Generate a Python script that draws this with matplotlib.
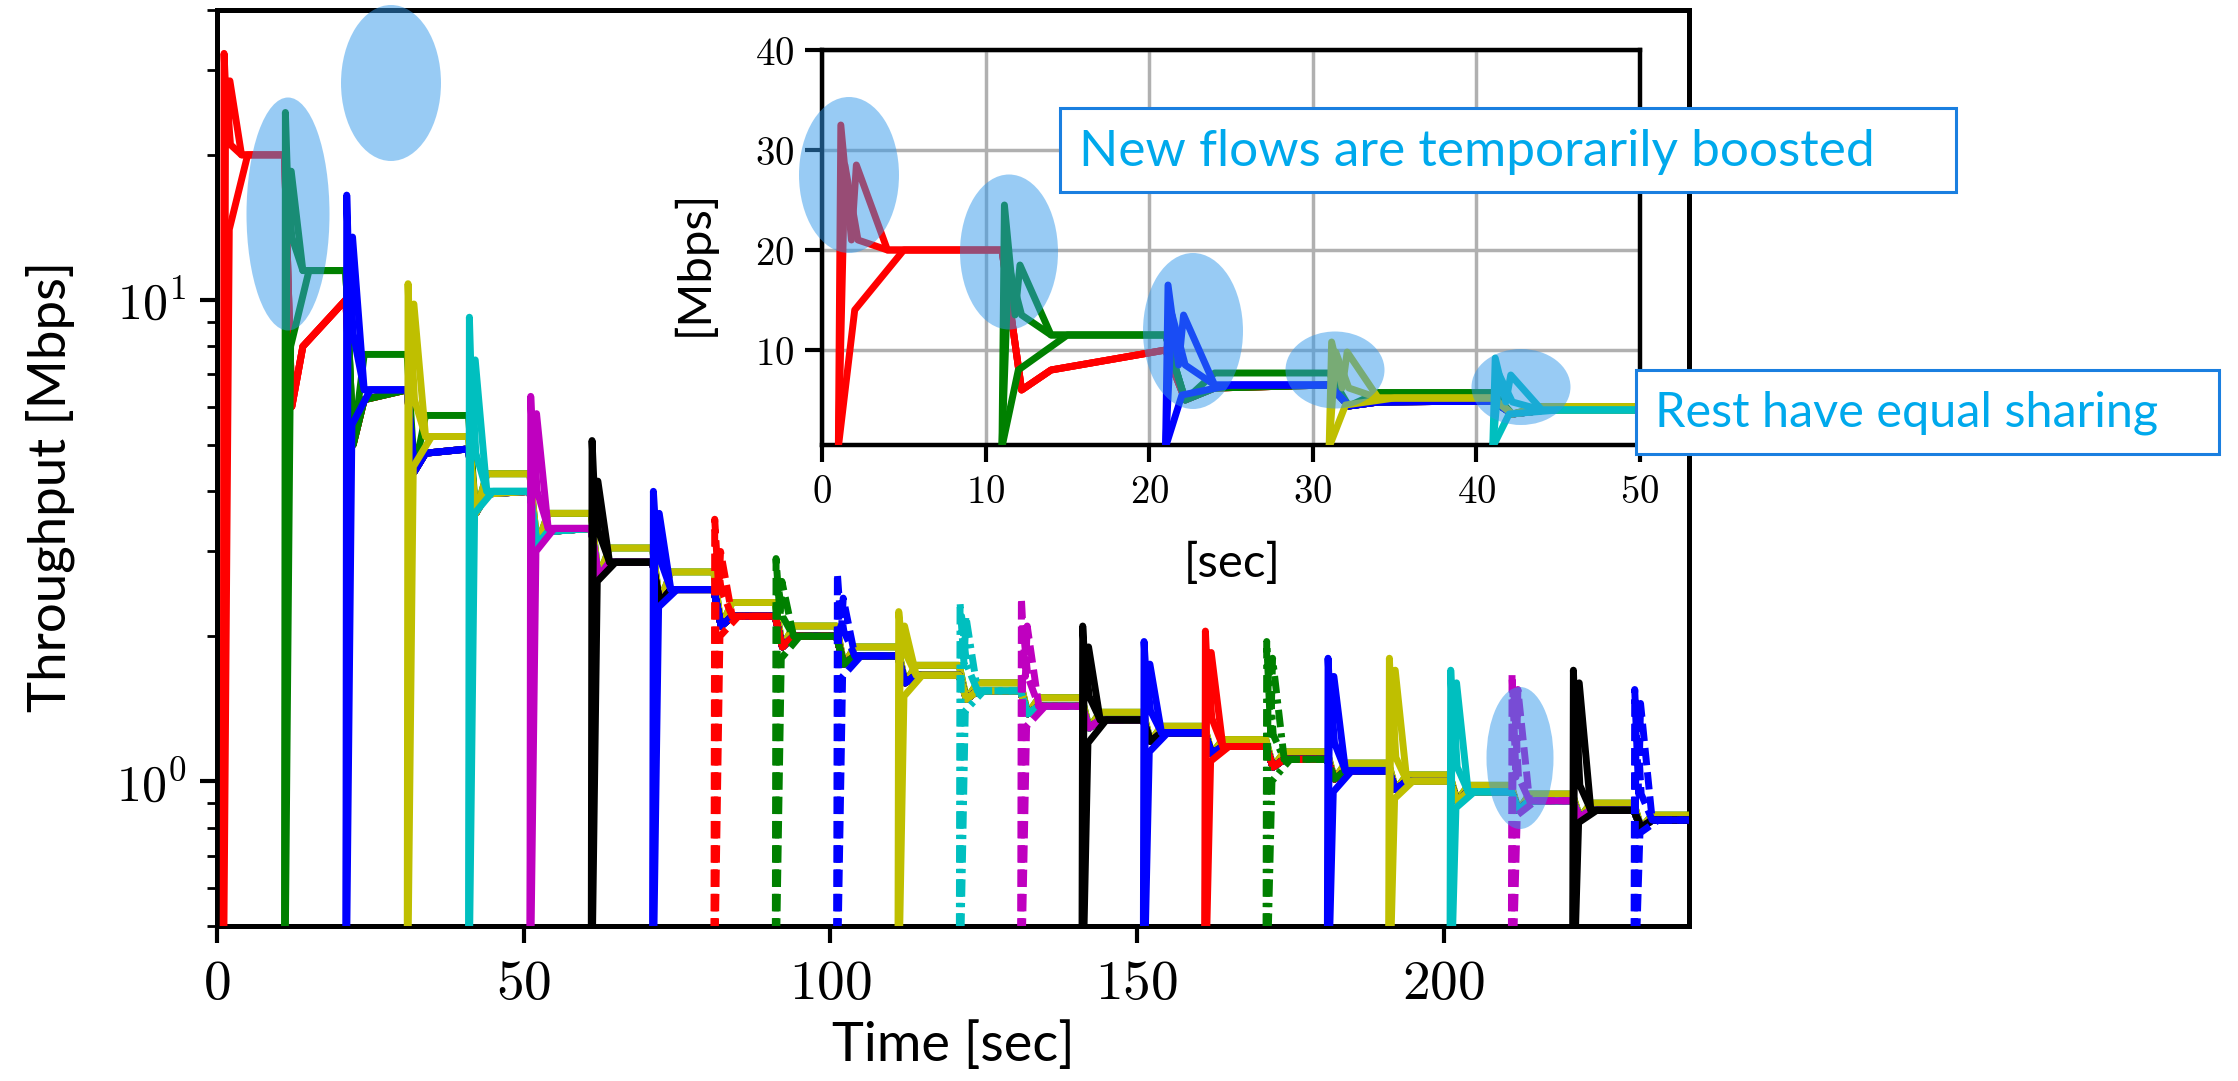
"""
Throughput of staggered flows: new flows get a short boost, then all flows
settle to an equal share. Main panel is log scale, inset zooms on the first 50 s.
"""

import math
import matplotlib
matplotlib.use('Agg')
import matplotlib.pyplot as plt
from matplotlib.patches import Ellipse, Rectangle
from matplotlib.ticker import FixedLocator, FuncFormatter

W, H = 2238, 1081

# One group of flows starts every 10 s
START = [1, 11, 21, 31, 41, 51, 61, 71, 81, 91, 101, 111,
         121, 131, 141, 151, 161, 171, 181, 191, 201, 211, 221, 231]
COLORS = ['r', 'g', 'b', 'y', 'c', 'm', 'k', 'b', 'r', 'g', 'b', 'y',
          'c', 'm', 'k', 'b', 'r', 'g', 'b', 'y', 'c', 'm', 'k', 'b']
STYLES = ['-', '-', '-', '-', '-', '-', '-', '-', '--', '--', '--', '-',
          '-.', '--', '-', '-', '-', '-.', '-', '-', '-', '--', '-', '--']

# boost of a new group (two runs), value ~1 s later, slow-start run, first plateau
PEAK = [32.5, 24.5, 16.5, 10.8, 9.2, 6.3, 5.1, 4.0, 3.5, 2.9, 2.7, 2.25,
        2.35, 2.4, 2.1, 1.95, 2.05, 1.95, 1.8, 1.8, 1.7, 1.67, 1.7, 1.55]
PEAK_B = [28.5, 18.5, 13.5, 9.8, 7.5, 5.8, 4.2, 3.6, 3.0, 2.6, 2.4, 2.1,
          2.2, 2.1, 1.9, 1.75, 1.85, 1.8, 1.65, 1.7, 1.6, 1.55, 1.6, 1.45]
MID = [21.0, 13.5, 8.5, 6.2, 4.8, 4.0, 3.3, 2.9, 2.5, 2.2, 2.05, 1.85,
       1.75, 1.65, 1.5, 1.4, 1.35, 1.25, 1.2, 1.12, 1.07, 1.02, 0.98, 0.94]
SLOW = [14.0, 8.0, 5.5, 4.5, 3.6, 3.0, 2.6, 2.3, 2.0, 1.8, 1.65, 1.5,
        1.4, 1.3, 1.2, 1.15, 1.1, 1.0, 0.95, 0.92, 0.88, 0.85, 0.82, 0.78]
LEVEL_NEW = [20.0, 11.5, 6.5, 5.2, 4.0, 3.35, 2.85, 2.5, 2.2, 2.0, 1.82, 1.66,
             1.54, 1.43, 1.34, 1.26, 1.18, 1.11, 1.05, 1.0, 0.95, 0.91, 0.87, 0.83]

# older flows in each 10 s period: plateau, dip when a new group arrives, value 2 s later
LEVEL = [20.0, 10.0, 6.5, 4.9, 4.0, 3.35, 2.85, 2.5, 2.2, 2.0, 1.82, 1.66,
         1.54, 1.43, 1.34, 1.26, 1.18, 1.11, 1.05, 1.0, 0.95, 0.91, 0.87, 0.83]
LEVEL_HI = [20.0, 11.5, 7.7, 5.75, 4.35, 3.6, 3.05, 2.72, 2.35, 2.1, 1.9, 1.74,
            1.6, 1.49, 1.39, 1.3, 1.22, 1.15, 1.09, 1.03, 0.98, 0.94, 0.9, 0.85]
DIP = [20.0, 6.0, 5.0, 4.4, 3.6, 3.1, 2.65, 2.35, 2.1, 1.9, 1.75, 1.6,
       1.48, 1.38, 1.29, 1.21, 1.14, 1.07, 1.01, 0.96, 0.91, 0.87, 0.84, 0.8]
REC = [20.0, 8.0, 6.2, 4.8, 3.95, 3.3, 2.85, 2.5, 2.2, 2.0, 1.82, 1.66,
       1.54, 1.43, 1.34, 1.26, 1.18, 1.11, 1.05, 1.0, 0.95, 0.91, 0.87, 0.83]
HI_GROUPS = [1, 3]   # groups that ride a bit above the fair share
T_END = 240

# highlight ellipses (figure pixels): cx, cy, w, h
ELLIPSES = [(288, 214, 83, 233), (391, 83, 100, 156), (1520, 758, 67, 142),
            (849, 175, 100, 156), (1009, 252, 98, 155), (1193, 331, 100, 156),
            (1335, 370, 99, 77), (1521, 387, 99, 76)]

TEXT_BLUE = '#00a9ec'
BOX_BLUE = '#1a7fe0'
LABEL_FONT = ['Lato', 'DejaVu Sans']
LW = 5.0
# shorter dashes than the matplotlib default, closer to the original plot
DASHES = {'--': (0, (2.5, 1.0)), '-.': (0, (2.5, 0.9, 0.6, 0.9)), '-': '-'}

plt.rcParams['mathtext.fontset'] = 'cm'


def flow_path(g, run):
    """Time/value points of one run of flow group g"""
    t0 = START[g]
    if run == 0:
        t = [t0, t0 + 0.15, t0 + 0.8, t0 + 1.1, t0 + 3]
        v = [0.3, PEAK[g], MID[g], PEAK_B[g], LEVEL_NEW[g]]
    elif run == 1:
        t = [t0, t0 + 0.4, t0 + 1.2, t0 + 3]
        v = [0.3, PEAK_B[g], MID[g], LEVEL_NEW[g]]
    else:
        t = [t0, t0 + 1.0, t0 + 4]
        v = [0.3, SLOW[g], LEVEL_NEW[g]]

    if g + 1 < len(START):
        t.append(START[g + 1])
    else:
        t.append(T_END)
    v.append(LEVEL_NEW[g])

    for k in range(g + 1, len(START)):
        hi = run == 0 and g in HI_GROUPS
        target = LEVEL_HI[k] if hi else LEVEL[k]
        end = START[k + 1] if k + 1 < len(START) else T_END
        t += [START[k] + 1.2, START[k] + 3, end]
        v += [DIP[k], target if hi else REC[k], target]
    return t, v


def draw_flows(ax, lw):
    for g in range(len(START)):
        for run in (2, 1, 0):
            t, v = flow_path(g, run)
            ax.plot(t, v, color=COLORS[g], ls=DASHES[STYLES[g]], lw=lw,
                    solid_joinstyle='round', dash_joinstyle='round', zorder=3)


def style_spines(ax, lw):
    for side in ax.spines.values():
        side.set_linewidth(lw)
    ax.tick_params(which='both', direction='out', top=False, right=False)
    ax.tick_params(which='major', length=12, width=3)
    ax.tick_params(which='minor', length=7, width=2)


fig = plt.figure(figsize=(W / 100, H / 100), dpi=100)

# main panel
ax = fig.add_axes([217 / W, 1 - 926 / H, (1689 - 217) / W, (926 - 10) / H])
draw_flows(ax, LW)
ax.set_yscale('log')
ax.set_xlim(0, 240)
ax.set_ylim(0.5, 40)
ax.xaxis.set_major_locator(FixedLocator([0, 50, 100, 150, 200]))
ax.xaxis.set_major_formatter(FuncFormatter(lambda x, p: r'$%d$' % x))
ax.yaxis.set_major_formatter(FuncFormatter(
    lambda y, p: r'$10^{%d}$' % round(math.log10(y))))
style_spines(ax, 3.6)
ax.tick_params(axis='x', which='major', labelsize=40, pad=10)
ax.tick_params(axis='y', which='major', labelsize=36, pad=10)

fig.text(953 / W, 1 - 1045 / H, 'Time [sec]', ha='center', va='center',
         fontsize=39, family=LABEL_FONT)
fig.text(50 / W, 1 - 486 / H, 'Throughput [Mbps]', ha='center', va='center',
         rotation=90, fontsize=38, family=LABEL_FONT)

# inset: first 50 s on a linear scale
axin = fig.add_axes([822 / W, 1 - 445 / H, (1640 - 822) / W, (445 - 50) / H])
axin.set_facecolor('white')
draw_flows(axin, LW)
axin.set_xlim(0, 50)
axin.set_ylim(0.5, 40)
axin.set_xticks([0, 10, 20, 30, 40, 50])
axin.set_yticks([10, 20, 30, 40])
axin.xaxis.set_major_formatter(FuncFormatter(lambda x, p: r'$%d$' % x))
axin.yaxis.set_major_formatter(FuncFormatter(lambda y, p: r'$%d$' % y))
axin.grid(True, color='#b0b0b0', lw=2.5, zorder=0)
axin.set_axisbelow(True)
style_spines(axin, 3.2)
axin.tick_params(labelsize=28, pad=8)

fig.text(1232 / W, 1 - 563 / H, '[sec]', ha='center', va='center',
         fontsize=34, family=LABEL_FONT)
fig.text(694 / W, 1 - 263 / H, '[Mbps]', ha='center', va='center',
         rotation=90, fontsize=34, family=LABEL_FONT)

# overlay in figure pixels for highlights and callouts
ov = fig.add_axes([0, 0, 1, 1], zorder=10)
ov.set_xlim(0, W)
ov.set_ylim(H, 0)
ov.axis('off')
ov.patch.set_alpha(0)

for cx, cy, w, h in ELLIPSES:
    ov.add_patch(Ellipse((cx, cy), w, h, facecolor='#3399eb', alpha=0.5,
                         edgecolor='none'))

ov.add_patch(Rectangle((1060, 108), 896, 84, facecolor='white',
                       edgecolor=BOX_BLUE, lw=2.2))
ov.text(1079, 152, 'New flows are temporarily boosted', ha='left', va='center',
        fontsize=37, color=TEXT_BLUE, family=LABEL_FONT)

ov.add_patch(Rectangle((1636, 370), 583, 84, facecolor='white',
                       edgecolor=BOX_BLUE, lw=2.2))
ov.text(1655, 413, 'Rest have equal sharing', ha='left', va='center',
        fontsize=35, color=TEXT_BLUE, family=LABEL_FONT)

fig.savefig('out.png', dpi=100)
